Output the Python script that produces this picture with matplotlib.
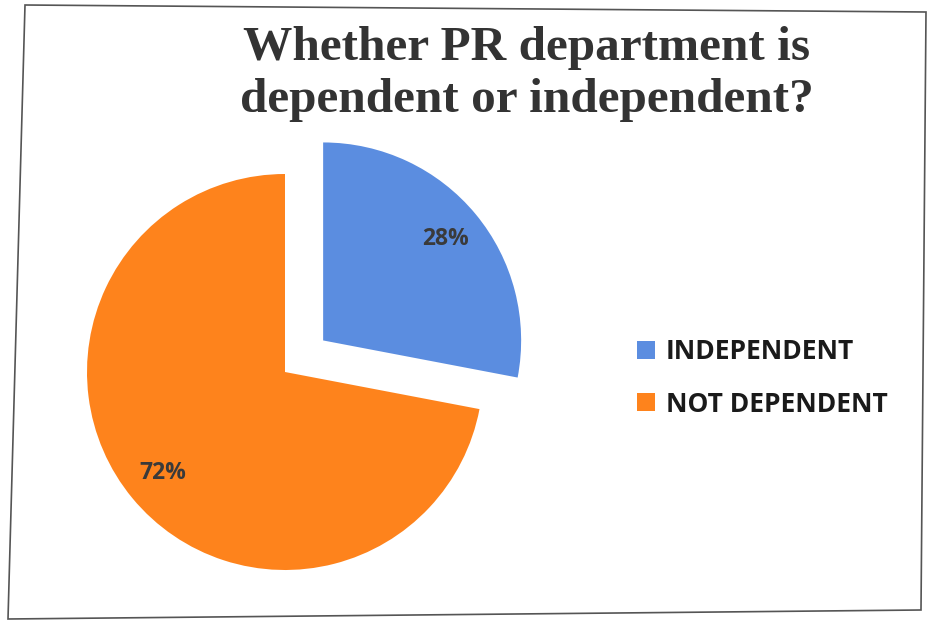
import matplotlib.pyplot as plt
from matplotlib.patches import Polygon

# survey answers (percent)
labels = ['INDEPENDENT', 'NOT DEPENDENT']
shares = [28, 72]
colors = ['#5b8de0', '#fe831c']

W, H = 928, 621
fig = plt.figure(figsize=(W / 100, H / 100), dpi=100)
fig.patch.set_facecolor('white')

# one data unit = pie radius = 198 px, pie centre at pixel (285, 372)
R = 198.0
cx, cy = 285, 372
ax = fig.add_axes([0, 0, 1, 1])
wedges, texts, autotexts = ax.pie(
    shares, colors=colors, startangle=90, counterclock=False,
    explode=[0.25, 0], autopct='%1.0f%%', pctdistance=0.8,
    wedgeprops=dict(linewidth=0),
    textprops=dict(fontsize=16.5, fontweight='bold', color='#3a3a3a',
                   family='Open Sans'))
ax.set_xlim(-cx / R, (W - cx) / R)
ax.set_ylim(-(H - cy) / R, cy / R)
ax.set_aspect('equal', adjustable='datalim')
ax.axis('off')

fig.text(527 / W, 1 - 74 / H, 'Whether PR department is\ndependent or independent?',
         ha='center', va='center', fontsize=35.5, fontweight='bold',
         family='Liberation Serif', color='#333333', linespacing=1.25)

leg = fig.legend(wedges, labels, loc='center left',
                 bbox_to_anchor=(613 / W, 1 - 378 / H), frameon=False,
                 prop=dict(family='Open Sans', weight='bold', size=19),
                 handlelength=0.7, handleheight=0.65, handletextpad=0.4,
                 labelspacing=0.95)
for t in leg.get_texts():
    t.set_color('#1a1a1a')

# thin frame round the whole chart
corners = [(25, 5), (926, 12), (921, 610), (8, 619)]
frame = Polygon([(x / W, 1 - y / H) for x, y in corners], closed=True,
                fill=False, edgecolor='#555555', linewidth=1.2,
                transform=fig.transFigure)
fig.add_artist(frame)

fig.savefig('out.png', dpi=100)
